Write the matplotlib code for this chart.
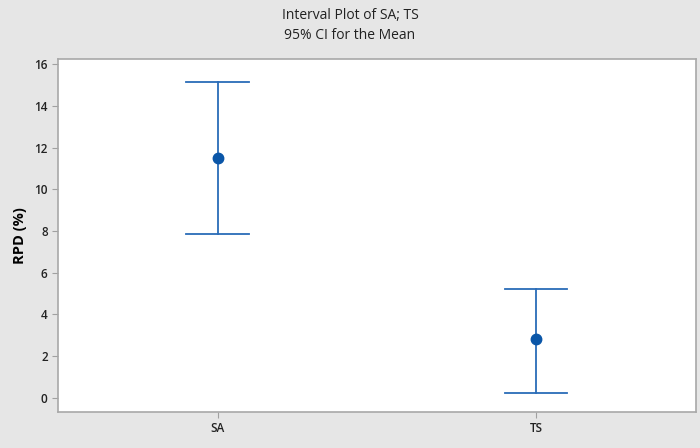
import matplotlib.pyplot as plt

groups = ['SA', 'TS']
means = [11.52, 2.80]
lower = [7.86, 0.24]
upper = [15.13, 5.20]

plt.rcParams['font.family'] = ['Open Sans', 'DejaVu Sans']

fig = plt.figure(figsize=(7, 4.48), dpi=100, facecolor='#e6e6e6')
ax = fig.add_axes([0.083, 0.081, 0.911, 0.787])
ax.set_facecolor('white')

xs = [1, 2]
line_col = '#2a6cb8'
dot_col = '#0a56a8'
for x, m, lo, hi in zip(xs, means, lower, upper):
    ax.plot([x, x], [lo, hi], color=line_col, lw=1.3, zorder=2)
    ax.plot([x - 0.0975, x + 0.0975], [lo, lo], color=line_col, lw=1.3, zorder=2)
    ax.plot([x - 0.0975, x + 0.0975], [hi, hi], color=line_col, lw=1.3, zorder=2)
    ax.plot(x, m, 'o', color=dot_col, ms=7.5, zorder=3)

ax.set_xlim(0.5, 2.5)
ax.set_ylim(-0.67, 16.24)
ax.set_xticks(xs)
ax.set_xticklabels(groups)
ax.set_yticks(range(0, 17, 2))
ax.tick_params(axis='both', labelsize=8.5, color='#a0a0a0', length=4, width=0.8)
for lbl in ax.get_xticklabels() + ax.get_yticklabels():
    lbl.set_fontweight('semibold')
    lbl.set_color('#222222')

for s in ax.spines.values():
    s.set_color('#a8a8a8')
    s.set_linewidth(1.2)

ax.set_ylabel('RPD (%)', fontsize=10.5, fontweight='bold', labelpad=5)
fig.text(0.5, 0.966, 'Interval Plot of SA; TS', ha='center', va='center', fontsize=10, color='#222222')
fig.text(0.5, 0.921, '95% CI for the Mean', ha='center', va='center', fontsize=10, color='#222222')

fig.savefig('out.png', dpi=100, facecolor=fig.get_facecolor())
